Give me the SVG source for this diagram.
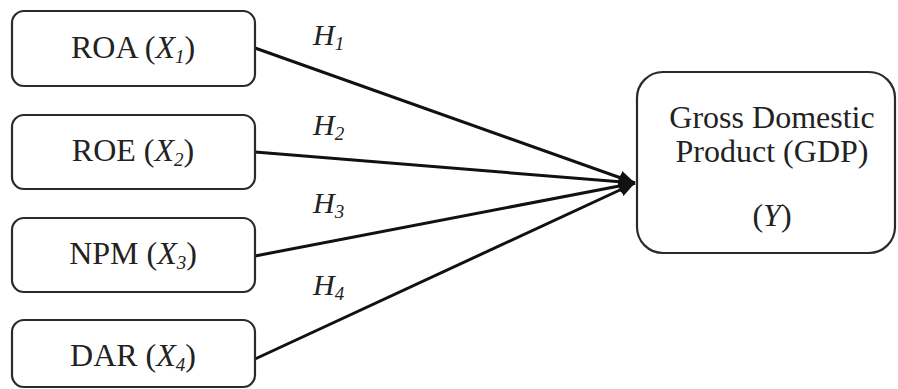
<svg xmlns="http://www.w3.org/2000/svg" width="898" height="389" viewBox="0 0 898 389">
<style>
.box{fill:#fff;stroke:#2a2a2a;stroke-width:2.2}
.t{font-family:"Liberation Serif","Times New Roman",serif;font-size:32px;fill:#222;text-anchor:middle}
.h{font-family:"Liberation Serif","Times New Roman",serif;font-size:30px;font-style:italic;fill:#222}
.sub{font-size:19px;font-style:italic}
.it{font-style:italic}
.ln{stroke:#111;stroke-width:3;fill:none}
</style>
<defs>
<marker id="arr" markerUnits="userSpaceOnUse" markerWidth="18" markerHeight="14" refX="16" refY="7" orient="auto">
<path d="M0,0 L16,7 L0,14 Z" fill="#111"/>
</marker>
</defs>
<rect width="898" height="389" fill="#fff"/>
<g id="connectors">
<line class="ln" x1="255" y1="48" x2="635" y2="183" marker-end="url(#arr)"/>
<line class="ln" x1="255" y1="152" x2="635" y2="183" marker-end="url(#arr)"/>
<line class="ln" x1="255" y1="256" x2="635" y2="183" marker-end="url(#arr)"/>
<line class="ln" x1="255" y1="359" x2="635" y2="183" marker-end="url(#arr)"/>
<text class="h" x="313" y="45">H<tspan class="sub" dy="5">1</tspan></text>
<text class="h" x="313" y="135">H<tspan class="sub" dy="5">2</tspan></text>
<text class="h" x="313" y="213">H<tspan class="sub" dy="5">3</tspan></text>
<text class="h" x="313" y="295">H<tspan class="sub" dy="5">4</tspan></text>
</g>
<g id="roa">
<rect class="box" x="12" y="11" width="243" height="75" rx="12"/>
<text class="t" x="133" y="58">ROA (<tspan class="it">X</tspan><tspan class="sub" dy="5">1</tspan><tspan dy="-5">)</tspan></text>
</g>
<g id="roe">
<rect class="box" x="12" y="115" width="243" height="74" rx="12"/>
<text class="t" x="133" y="161">ROE (<tspan class="it">X</tspan><tspan class="sub" dy="5">2</tspan><tspan dy="-5">)</tspan></text>
</g>
<g id="npm">
<rect class="box" x="12" y="218" width="243" height="74" rx="12"/>
<text class="t" x="133" y="264">NPM (<tspan class="it">X</tspan><tspan class="sub" dy="5">3</tspan><tspan dy="-5">)</tspan></text>
</g>
<g id="dar">
<rect class="box" x="12" y="320" width="243" height="67" rx="12"/>
<text class="t" x="133" y="366">DAR (<tspan class="it">X</tspan><tspan class="sub" dy="5">4</tspan><tspan dy="-5">)</tspan></text>
</g>
<g id="gdp">
<rect class="box" x="637" y="72" width="258" height="181" rx="26"/>
<text class="t" x="772" y="128">Gross Domestic</text>
<text class="t" x="772" y="162">Product (GDP)</text>
<text class="t" x="772" y="226">(<tspan class="it">Y</tspan>)</text>
</g>
</svg>
